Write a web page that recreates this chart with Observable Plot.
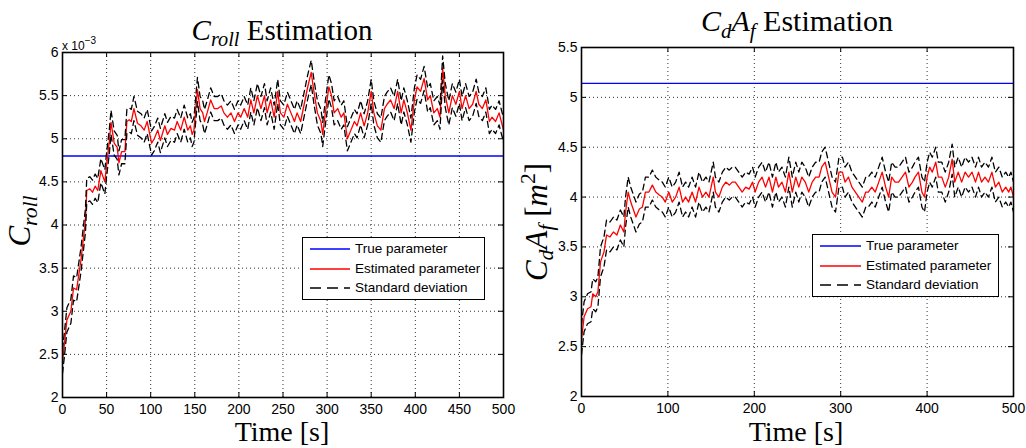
<!DOCTYPE html>
<html><head><meta charset="utf-8">
<script src="https://cdn.jsdelivr.net/npm/d3@7"></script>
<script src="https://cdn.jsdelivr.net/npm/@observablehq/plot@0.6"></script>
<style>
body{margin:0;background:#fff;}
#wrap{position:relative;width:1026px;height:448px;overflow:hidden;font-family:"Liberation Sans",Arial,sans-serif;}
.panel{position:absolute;top:0;}
.ttl{position:absolute;font-family:"Liberation Serif","DejaVu Serif",serif;font-size:29px;transform:translate(-50%,-50%);white-space:nowrap;line-height:1;color:#000;}
.ttl sub{font-size:0.7em;vertical-align:-0.3em;}
.ttl sup{font-size:0.7em;vertical-align:0.5em;}
.ylab{position:absolute;font-family:"Liberation Serif","DejaVu Serif",serif;font-size:31px;transform:translate(-50%,-50%) rotate(-90deg);white-space:nowrap;line-height:1;}
.ylab sub{font-size:0.7em;vertical-align:-0.3em;}
.ylab sup{font-size:0.7em;vertical-align:0.55em;}
.legend{position:absolute;border:1.5px solid #000;background:#fff;font-size:13.5px;box-sizing:border-box;}
.legend .row{position:absolute;left:0;height:16px;}
.legend svg{position:absolute;top:0;}
.legend span{position:absolute;top:0;line-height:16px;white-space:nowrap;}
.exp{position:absolute;font-size:12px;white-space:nowrap;}
.exp sup{font-size:10px;vertical-align:0.6em;}
</style>
</head><body>
<div id="wrap"></div>
<script>
// ---- Left panel: C_roll (values in units of 1e-3) ----
const rollT = [0,2,5,9.5,12.5,16,21,26,27.5,31,
  34,37,40,43.5,48,50,53,55,58.6,62,
  64,67,70.7,73,75.6,78,81,85,89,92.6,
  96,101,104,108,111,116,119,123,127,130,
  134,138,142,145,147,149,153,156,159,161,
  164,168,172,176,180,183,187,191,195,199,
  202,206,210,213.5,217,221,225,229,232,236,
  240,244,247,251,255,259,263,266,270,274,
  278,282,285,289,293,295,298,302,305,308,
  312,316,319,323,327,331,334,338,342,346,
  350,353,357,361,365,368,372,376,380,384,
  387,391,395,399,402,406,410,414,417,421,
  425,428,431,434,438,442,446,450,453,457,
  461,465,469,472,476,480,484,487,491,495,
  500];
const rollEst = [2.42,2.6,2.9,3.0,3.27,3.25,3.6,4.05,4.4,4.42,
  4.38,4.45,4.4,4.63,4.5,4.7,4.96,5.19,4.95,4.9,
  4.72,4.85,4.85,5.2,5.22,5.2,5.35,5.18,5.15,5.1,
  5.2,4.95,5.0,5.1,4.98,5.15,5.05,5.12,5.1,5.2,
  5.1,5.25,5.1,5.15,5.05,5.1,5.57,5.35,5.3,5.2,
  5.3,5.45,5.35,5.35,5.38,5.3,5.25,5.3,5.2,5.3,
  5.25,5.35,5.25,5.45,5.3,5.5,5.35,5.5,5.3,5.45,
  5.25,5.55,5.3,5.25,5.4,5.3,5.2,5.3,5.2,5.4,
  5.6,5.77,5.55,5.3,5.2,5.05,5.3,5.6,5.5,5.3,
  5.35,5.25,5.3,5.0,5.1,5.2,5.15,5.3,5.15,5.3,
  5.55,5.3,5.15,5.1,5.35,5.4,5.45,5.35,5.55,5.3,
  5.45,5.3,5.1,5.45,5.6,5.55,5.7,5.45,5.5,5.3,
  5.35,5.25,5.82,5.5,5.3,5.5,5.4,5.55,5.35,5.5,
  5.35,5.4,5.55,5.4,5.35,5.45,5.2,5.25,5.2,5.3,
  5.1];
const rollSd = 0.14;
const rollTrue = 4.8;
const rollYTicks = [2,2.5,3,3.5,4,4.5,5,5.5,6];
const rollXTicks = [0,50,100,150,200,250,300,350,400,450,500];

// ---- Right panel: CdAf ----
const cdT = [0,3,7,11,13,16.5,19,22,26,29,
  33,37,41,45,49,51,54,57,63,67,
  70.5,74,78,82,86,90,93.5,97,101,105,
  109,113,117,120.5,124,128,132,136,140,144,
  147.5,152.5,155,159,163,167,171,174.5,178,182,
  186,190,194,198,201,205,209,213,217,221,
  225,228,232,236,240,244,248,251.5,255,259,
  263,267,271,275,278,282,286,290,294,298,
  302,305,309,313,317,321,325,329,332,336,
  340,344,348,352,355.5,359,363,367,371,375,
  379,383,386,390,394,397,400,403,406,410,
  413,417,421,425,429,432,436,440,444,448,
  452,456,459.5,463,467,471,475,479,483,487,
  491,494.5,497,500];
const cdEst = [2.57,2.8,2.88,2.9,3.03,3.0,3.05,3.35,3.45,3.62,
  3.6,3.65,3.62,3.72,3.65,3.85,4.05,3.95,3.8,3.88,
  3.9,4.05,4.05,4.12,4.05,4.02,4.0,3.95,4.05,3.95,
  4.0,4.1,3.95,4.0,3.95,4.05,3.95,4.1,4.0,4.05,
  4.0,4.2,4.05,4.0,4.1,4.15,4.12,4.15,4.15,4.1,
  4.05,4.1,4.08,4.15,4.05,4.15,4.2,4.1,4.2,4.05,
  4.2,4.1,4.15,4.05,4.25,4.05,4.2,4.1,4.2,4.15,
  4.05,4.15,4.2,4.2,4.3,4.35,4.2,4.05,4.0,4.25,
  4.25,4.15,4.2,4.1,4.05,4.0,3.95,4.05,4.05,4.1,
  4.05,4.15,4.25,4.1,4.0,4.2,4.15,4.15,4.2,4.25,
  4.1,4.15,4.2,4.25,4.05,4.0,4.2,4.3,4.25,4.35,
  4.2,4.2,4.1,4.2,4.38,4.15,4.25,4.15,4.25,4.2,
  4.25,4.15,4.25,4.15,4.2,4.15,4.25,4.1,4.15,4.05,
  4.1,4.05,4.1,4.0];
const cdSd = 0.15;
const cdTrue = 5.14;
const cdYTicks = [2,2.5,3,3.5,4,4.5,5,5.5];
const cdXTicks = [0,100,200,300,400,500];

const legendLabels = ["True parameter","Estimated parameter","Standard deviation"];
const colors = {truth:"#0000ff", est:"#ff0000", sd:"#000000"};

function panel(o){
  const data = o.t.map((tt,i)=>({t:tt, est:o.est[i], hi:o.est[i]+o.sd, lo:o.est[i]-o.sd}));
  const pw = o.width-o.ml-o.mr, ph = o.height-o.mt-o.mb;
  const fmt = d => String(d);
  return Plot.plot({
    width:o.width, height:o.height,
    marginTop:o.mt, marginRight:o.mr, marginBottom:o.mb, marginLeft:o.ml,
    style:{fontFamily:"Liberation Sans, Arial, sans-serif", fontSize:"14px", color:"#000", background:"transparent", overflow:"visible"},
    x:{domain:[0,500]},
    y:{domain:o.yDomain},
    marks:[
      Plot.gridX(o.xTicks,{stroke:"#333", strokeOpacity:1, strokeDasharray:"1,3"}),
      Plot.gridY(o.yTicks,{stroke:"#333", strokeOpacity:1, strokeDasharray:"1,3"}),
      Plot.ruleY([o.truth],{stroke:colors.truth, strokeWidth:1.4}),
      Plot.line(data,{x:"t", y:"est", stroke:colors.est, strokeWidth:1.3, clip:true}),
      Plot.line(data,{x:"t", y:"hi", stroke:colors.sd, strokeWidth:1.3, strokeDasharray:"6,4", clip:true}),
      Plot.line(data,{x:"t", y:"lo", stroke:colors.sd, strokeWidth:1.3, strokeDasharray:"6,4", clip:true}),
      Plot.tickX(o.xTicks,{x:d=>d, insetTop:ph-5, stroke:"#000"}),
      Plot.tickX(o.xTicks,{x:d=>d, insetBottom:ph-5, stroke:"#000"}),
      Plot.tickY(o.yTicks,{y:d=>d, insetRight:pw-5, stroke:"#000"}),
      Plot.tickY(o.yTicks,{y:d=>d, insetLeft:pw-5, stroke:"#000"}),
      Plot.frame({stroke:"#000", strokeWidth:1.6}),
      Plot.axisX(o.xTicks,{tickSize:0, tickPadding:7, tickFormat:fmt, label:null, fontSize:14}),
      Plot.axisY(o.yTicks,{tickSize:0, tickPadding:4, tickFormat:fmt, label:null, fontSize:14})
    ]
  });
}

const wrap = document.getElementById("wrap");
function place(el, left){ el.classList.add("panel"); el.style.left = left+"px"; wrap.appendChild(el); }

place(panel({t:rollT, est:rollEst, sd:rollSd, truth:rollTrue, yDomain:[2,6], yTicks:rollYTicks, xTicks:rollXTicks,
  width:513, height:448, mt:52, mr:10, mb:51, ml:62}), 0);
place(panel({t:cdT, est:cdEst, sd:cdSd, truth:cdTrue, yDomain:[2,5.5], yTicks:cdYTicks, xTicks:cdXTicks,
  width:513, height:448, mt:47, mr:13, mb:52, ml:68}), 513);

function html(tag, cls, inner, styles){
  const e = document.createElement(tag); e.className = cls; e.innerHTML = inner;
  Object.assign(e.style, styles); wrap.appendChild(e); return e;
}
// titles
html("div","ttl",'<i>C</i><sub><i>roll</i></sub> Estimation',{left:"282px", top:"33px"});
html("div","ttl",'<i>C</i><sub><i>d</i></sub><i>A</i><sub><i>f</i></sub> Estimation',{left:"797px", top:"24px", fontSize:"30px"});
// x labels
html("div","ttl",'Time [s]',{left:"282px", top:"432px", fontSize:"28px"});
html("div","ttl",'Time [s]',{left:"796px", top:"432px", fontSize:"28px"});
// y labels
html("div","ylab",'<i>C</i><sub><i>roll</i></sub>',{left:"23px", top:"221px"});
html("div","ylab",'<i>C</i><sub><i>d</i></sub><i>A</i><sub><i>f</i></sub>&nbsp;[<i>m</i><sup>2</sup>]',{left:"538px", top:"222px"});
// exponent
html("div","exp",'x 10<sup>−3</sup>',{left:"62px", top:"35px"});

// legends
function legend(left, top, w, h, rowYs, x0, x1, tx){
  const box = html("div","legend","",{left:left+"px", top:top+"px", width:w+"px", height:h+"px"});
  const styles = [
    {c:colors.truth, d:null},
    {c:colors.est, d:null},
    {c:colors.sd, d:"11,6"}
  ];
  legendLabels.forEach((lab,i)=>{
    const row = document.createElement("div"); row.className="row";
    row.style.top = (rowYs[i]-8)+"px"; row.style.width = w+"px";
    const ns = "http://www.w3.org/2000/svg";
    const svg = document.createElementNS(ns,"svg");
    svg.setAttribute("width", x1+2); svg.setAttribute("height", 16);
    svg.style.left = "0px";
    const ln = document.createElementNS(ns,"line");
    ln.setAttribute("x1", x0); ln.setAttribute("x2", x1); ln.setAttribute("y1", 8); ln.setAttribute("y2", 8);
    ln.setAttribute("stroke", styles[i].c); ln.setAttribute("stroke-width", 1.4);
    if (styles[i].d) ln.setAttribute("stroke-dasharray", styles[i].d);
    svg.appendChild(ln); row.appendChild(svg);
    const sp = document.createElement("span"); sp.textContent = lab; sp.style.left = tx+"px";
    row.appendChild(sp);
    box.appendChild(row);
  });
}
legend(302, 237, 183, 63, [11,31,50], 7, 47, 52);
legend(812, 234, 187, 63, [11,31,50], 7, 48, 53);
</script>
</body></html>
